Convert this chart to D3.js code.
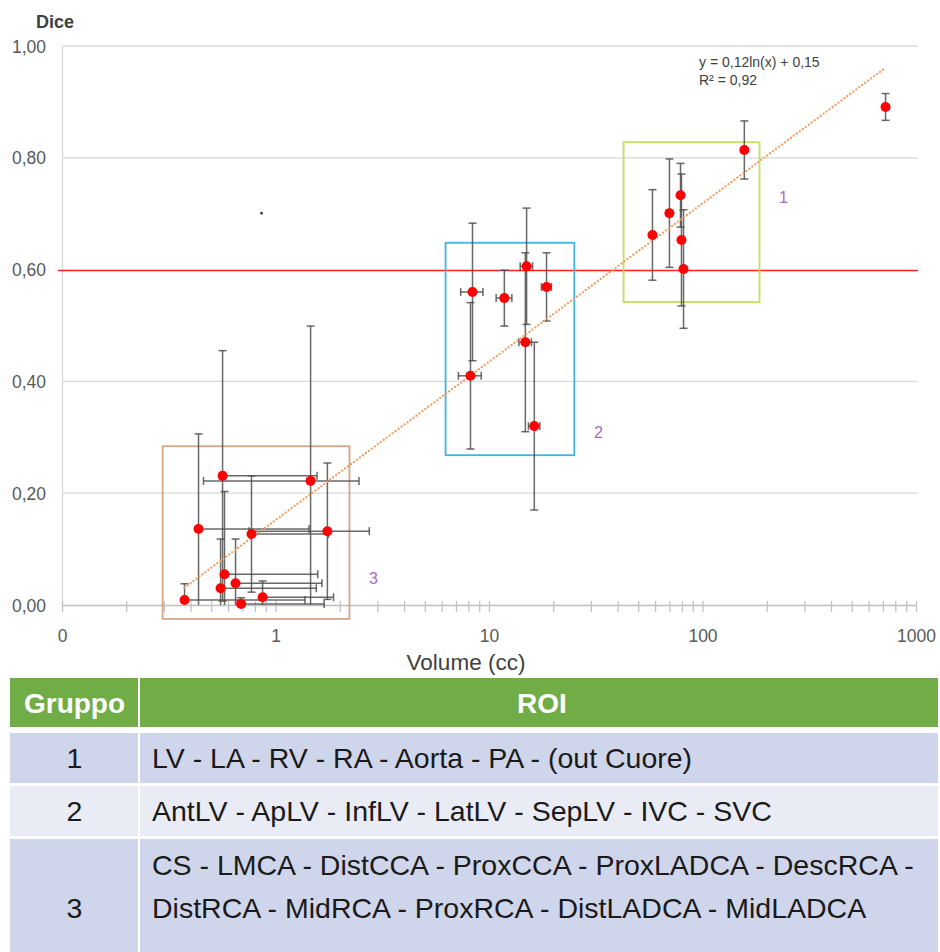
<!DOCTYPE html>
<html>
<head>
<meta charset="utf-8">
<script src="https://cdn.jsdelivr.net/npm/d3@7/dist/d3.min.js"></script>
<style>
body{margin:0;background:#fff;}
svg{display:block;font-family:"Liberation Sans",Arial,sans-serif;}
</style>
</head>
<body>
<svg id="chart" width="940" height="952"></svg>
<script>
// ---- data ----
// gruppo 1
var g1Vol  = [720, 157, 58.3, 70, 78.9, 79.7, 81.5];
var g1Dice = [0.891, 0.814, 0.662, 0.701, 0.733, 0.653, 0.601];
var g1Sd   = [0.024, 0.052, 0.081, 0.097, 0.057, 0.118, 0.106];
// gruppo 2
var g2Vol  = [8.37, 8.19, 11.8, 15.0, 18.6, 14.8, 16.3];
var g2Dice = [0.560, 0.410, 0.549, 0.606, 0.569, 0.470, 0.320];
var g2Sd   = [0.123, 0.131, 0.050, 0.104, 0.061, 0.160, 0.150];
// gruppo 3
var g3Vol  = [0.375, 0.436, 0.565, 1.46, 0.772, 1.75, 0.577, 0.65, 0.553, 0.87, 0.69];
var g3Dice = [0.009, 0.136, 0.231, 0.222, 0.127, 0.132, 0.055, 0.039, 0.030, 0.014, 0.002];
var g3Sd   = [0.029, 0.170, 0.224, 0.277, 0.104, 0.122, 0.148, 0.079, 0.088, 0.029, 0.011];
var volErr = 1; // fixed x error bar (cc)

var trendSlope = 0.123, trendIntercept = 0.152;
var trendText = ["y = 0,12ln(x) + 0,15", "R\u00b2 = 0,92"];
var diceThreshold = 0.6;

var yTicks = [0, 0.2, 0.4, 0.6, 0.8, 1.0];
var xMajor = [0.1, 1, 10, 100, 1000];
var xMajorLabels = ["0", "1", "10", "100", "1000"];

// boxes around groups (data units)
var boxNames  = ["1", "2", "3"];
var boxVol    = [[42.7, 185], [6.26, 25.1], [0.296, 2.22]];
var boxDice   = [[0.542, 0.828], [0.268, 0.648], [-0.025, 0.284]];
var boxLabelY = [0.73, 0.309, 0.047];
var boxColors = ["#BFE25A", "#3DB5E6", "#D5A588"];

var strayMark = [0.86, 0.701];

// table
var tableHeader = ["Gruppo", "ROI"];
var tableGroups = ["1", "2", "3"];
var tableRoi = [
  ["LV - LA - RV - RA - Aorta - PA - (out Cuore)"],
  ["AntLV - ApLV - InfLV - LatLV - SepLV - IVC - SVC"],
  ["CS - LMCA - DistCCA - ProxCCA - ProxLADCA - DescRCA -", "DistRCA - MidRCA - ProxRCA - DistLADCA - MidLADCA"]
];

// ---- chart ----
var svg = d3.select("#chart");
var x = d3.scaleLog().domain([0.1, 1000]).range([62, 916]);
var y = d3.scaleLinear().domain([0, 1]).range([605, 46]);
var fmtY = d3.formatLocale({decimal: ",", thousands: ".", grouping: [3], currency: ["", "\u20ac"]}).format(".2f");

// gridlines (0,60 is covered by the threshold line)
svg.append("g").selectAll("line")
  .data(yTicks.filter(function(d){ return d > 0 && d !== diceThreshold; }))
  .enter().append("line")
  .attr("x1", 62).attr("x2", 918)
  .attr("y1", function(d){ return y(d); }).attr("y2", function(d){ return y(d); })
  .attr("stroke", "#D9D9D9").attr("stroke-width", 1.3);

// y axis
var yAxis = svg.append("g").attr("transform", "translate(62,0)")
  .call(d3.axisLeft(y).tickValues(yTicks).tickSize(0).tickFormat(fmtY));
yAxis.select(".domain").attr("stroke", "#D9D9D9").attr("stroke-width", 1.3);
yAxis.selectAll("text").attr("x", -16).attr("dy", "0.35em")
  .attr("font-size", 17.5).attr("fill", "#595959").attr("font-family", "Liberation Sans, Arial, sans-serif");

// x axis (log, minor ticks)
var xMinor = [];
[0.1, 1, 10, 100].forEach(function(dec){
  d3.range(2, 10).forEach(function(k){ xMinor.push(k * dec); });
});
var xAxis = svg.append("g").attr("transform", "translate(0,605)")
  .call(d3.axisBottom(x).tickValues(xMajor.concat(xMinor)).tickSize(0).tickSizeOuter(0)
    .tickFormat(function(d){
      var i = xMajor.indexOf(d);
      return i < 0 ? "" : xMajorLabels[i];
    }));
xAxis.select(".domain").attr("stroke", "#BFBFBF").attr("stroke-width", 1.3);
xAxis.selectAll(".tick line").attr("y1", -4).attr("y2", 7).attr("stroke", "#BFBFBF").attr("stroke-width", 1.2);
xAxis.selectAll("text").attr("y", 31).attr("dy", "0.35em")
  .attr("font-size", 17.5).attr("fill", "#595959").attr("font-family", "Liberation Sans, Arial, sans-serif");

// axis titles
svg.append("text").attr("x", 55).attr("y", 22).attr("dy", "0.35em")
  .attr("text-anchor", "middle").attr("font-size", 18).attr("font-weight", "bold")
  .attr("fill", "#404040").text("Dice");
svg.append("text").attr("x", 466).attr("y", 662).attr("dy", "0.35em")
  .attr("text-anchor", "middle").attr("font-size", 22.5)
  .attr("fill", "#404040").text("Volume (cc)");

// threshold line
svg.append("line")
  .attr("x1", 58).attr("x2", 918)
  .attr("y1", Math.round(y(diceThreshold)) + 0.5).attr("y2", Math.round(y(diceThreshold)) + 0.5)
  .attr("stroke", "#FF1F1F").attr("stroke-width", 1.6);

// group boxes
var boxG = svg.append("g").attr("fill", "none").attr("stroke-width", 1.8);
boxNames.forEach(function(name, i){
  var x0 = x(boxVol[i][0]), x1 = x(boxVol[i][1]);
  var y0 = y(boxDice[i][1]), y1 = y(boxDice[i][0]);
  boxG.append("rect").attr("x", x0).attr("y", y0)
    .attr("width", x1 - x0).attr("height", y1 - y0)
    .attr("stroke", boxColors[i]);
  svg.append("text").attr("x", x1 + 24).attr("y", y(boxLabelY[i])).attr("dy", "0.35em")
    .attr("text-anchor", "middle").attr("font-size", 16).attr("fill", "#A86BC8").text(name);
});

// points
var pts = [];
[[g1Vol, g1Dice, g1Sd], [g2Vol, g2Dice, g2Sd], [g3Vol, g3Dice, g3Sd]].forEach(function(s){
  s[0].forEach(function(v, i){ pts.push({vol: v, dice: s[1][i], sd: s[2][i]}); });
});

// error bars
var eb = svg.append("g").attr("stroke", "#4d4d4d").attr("stroke-width", 1.5).attr("stroke-opacity", 0.85);
pts.forEach(function(d){
  var cx = x(d.vol), cy = y(d.dice);
  var top = y(d.dice + d.sd), bot = y(Math.max(0, d.dice - d.sd));
  eb.append("line").attr("x1", cx).attr("x2", cx).attr("y1", top).attr("y2", bot);
  eb.append("line").attr("x1", cx - 4).attr("x2", cx + 4).attr("y1", top).attr("y2", top);
  if (d.dice - d.sd > 0) {
    eb.append("line").attr("x1", cx - 4).attr("x2", cx + 4).attr("y1", bot).attr("y2", bot);
  }
  var xr = x(d.vol + volErr);
  var hasLeft = d.vol - volErr > 0;
  var xl = hasLeft ? x(d.vol - volErr) : cx;
  eb.append("line").attr("x1", xl).attr("x2", xr).attr("y1", cy).attr("y2", cy);
  eb.append("line").attr("x1", xr).attr("x2", xr).attr("y1", cy - 4).attr("y2", cy + 4);
  if (hasLeft) {
    eb.append("line").attr("x1", xl).attr("x2", xl).attr("y1", cy - 4).attr("y2", cy + 4);
  }
});

// trendline (straight on a log x axis)
var vMin = d3.min(pts, function(d){ return d.vol; });
var vMax = d3.max(pts, function(d){ return d.vol; });
svg.append("line")
  .attr("x1", x(vMin)).attr("y1", y(trendSlope * Math.log(vMin) + trendIntercept))
  .attr("x2", x(vMax)).attr("y2", y(trendSlope * Math.log(vMax) + trendIntercept))
  .attr("stroke", "#F29C5E").attr("stroke-width", 2.2)
  .attr("stroke-dasharray", "0.1,3.6").attr("stroke-linecap", "round");

svg.append("g").selectAll("circle")
  .data(pts).enter().append("circle")
  .attr("cx", function(d){ return x(d.vol); })
  .attr("cy", function(d){ return y(d.dice); })
  .attr("r", 5).attr("fill", "#FF0000");

svg.append("circle").attr("cx", x(strayMark[0])).attr("cy", y(strayMark[1]))
  .attr("r", 1.3).attr("fill", "#333");

// trend equation
svg.append("g").selectAll("text")
  .data(trendText).enter().append("text")
  .attr("x", 699).attr("y", function(d, i){ return 62 + i * 18; }).attr("dy", "0.35em")
  .attr("font-size", 14).attr("fill", "#404040").text(function(d){ return d; });

// ---- table ----
var tLeft = 10, tRight = 938, tSplit = 139;
var headTop = 678, headH = 49;
var rowTops = [733, 786, 839], rowH = [50, 50, 116];
var rowFill = ["#CFD5EA", "#E9EBF5", "#CFD5EA"];
var tab = svg.append("g");

tab.append("rect").attr("x", tLeft).attr("y", headTop).attr("width", tRight - tLeft).attr("height", headH).attr("fill", "#70AD47");
tab.append("line").attr("x1", tSplit).attr("x2", tSplit).attr("y1", headTop).attr("y2", 952)
  .attr("stroke", "#fff").attr("stroke-width", 2);
tab.selectAll("text.head").data(tableHeader).enter().append("text")
  .attr("x", function(d, i){ return i === 0 ? (tLeft + tSplit) / 2 : 542; })
  .attr("y", headTop + headH / 2).attr("dy", "0.36em")
  .attr("text-anchor", "middle").attr("font-size", 28).attr("font-weight", "bold")
  .attr("fill", "#fff").text(function(d){ return d; });

tableGroups.forEach(function(gname, i){
  tab.append("rect").attr("x", tLeft).attr("y", rowTops[i]).attr("width", tSplit - 1 - tLeft).attr("height", rowH[i]).attr("fill", rowFill[i]);
  tab.append("rect").attr("x", tSplit + 1).attr("y", rowTops[i]).attr("width", tRight - tSplit - 1).attr("height", rowH[i]).attr("fill", rowFill[i]);
  var lines = tableRoi[i];
  var lineY = lines.length === 1 ? [rowTops[i] + rowH[i] / 2] : [rowTops[i] + 26, rowTops[i] + 69];
  tab.append("text").attr("x", (tLeft + tSplit) / 2).attr("y", lineY[lineY.length - 1]).attr("dy", "0.36em")
    .attr("text-anchor", "middle").attr("font-size", 28.5).attr("fill", "#1a1a1a").text(gname);
  lines.forEach(function(t, j){
    tab.append("text").attr("x", 152).attr("y", lineY[j]).attr("dy", "0.36em")
      .attr("font-size", 28.5).attr("fill", "#1a1a1a").text(t);
  });
});
</script>
</body>
</html>
